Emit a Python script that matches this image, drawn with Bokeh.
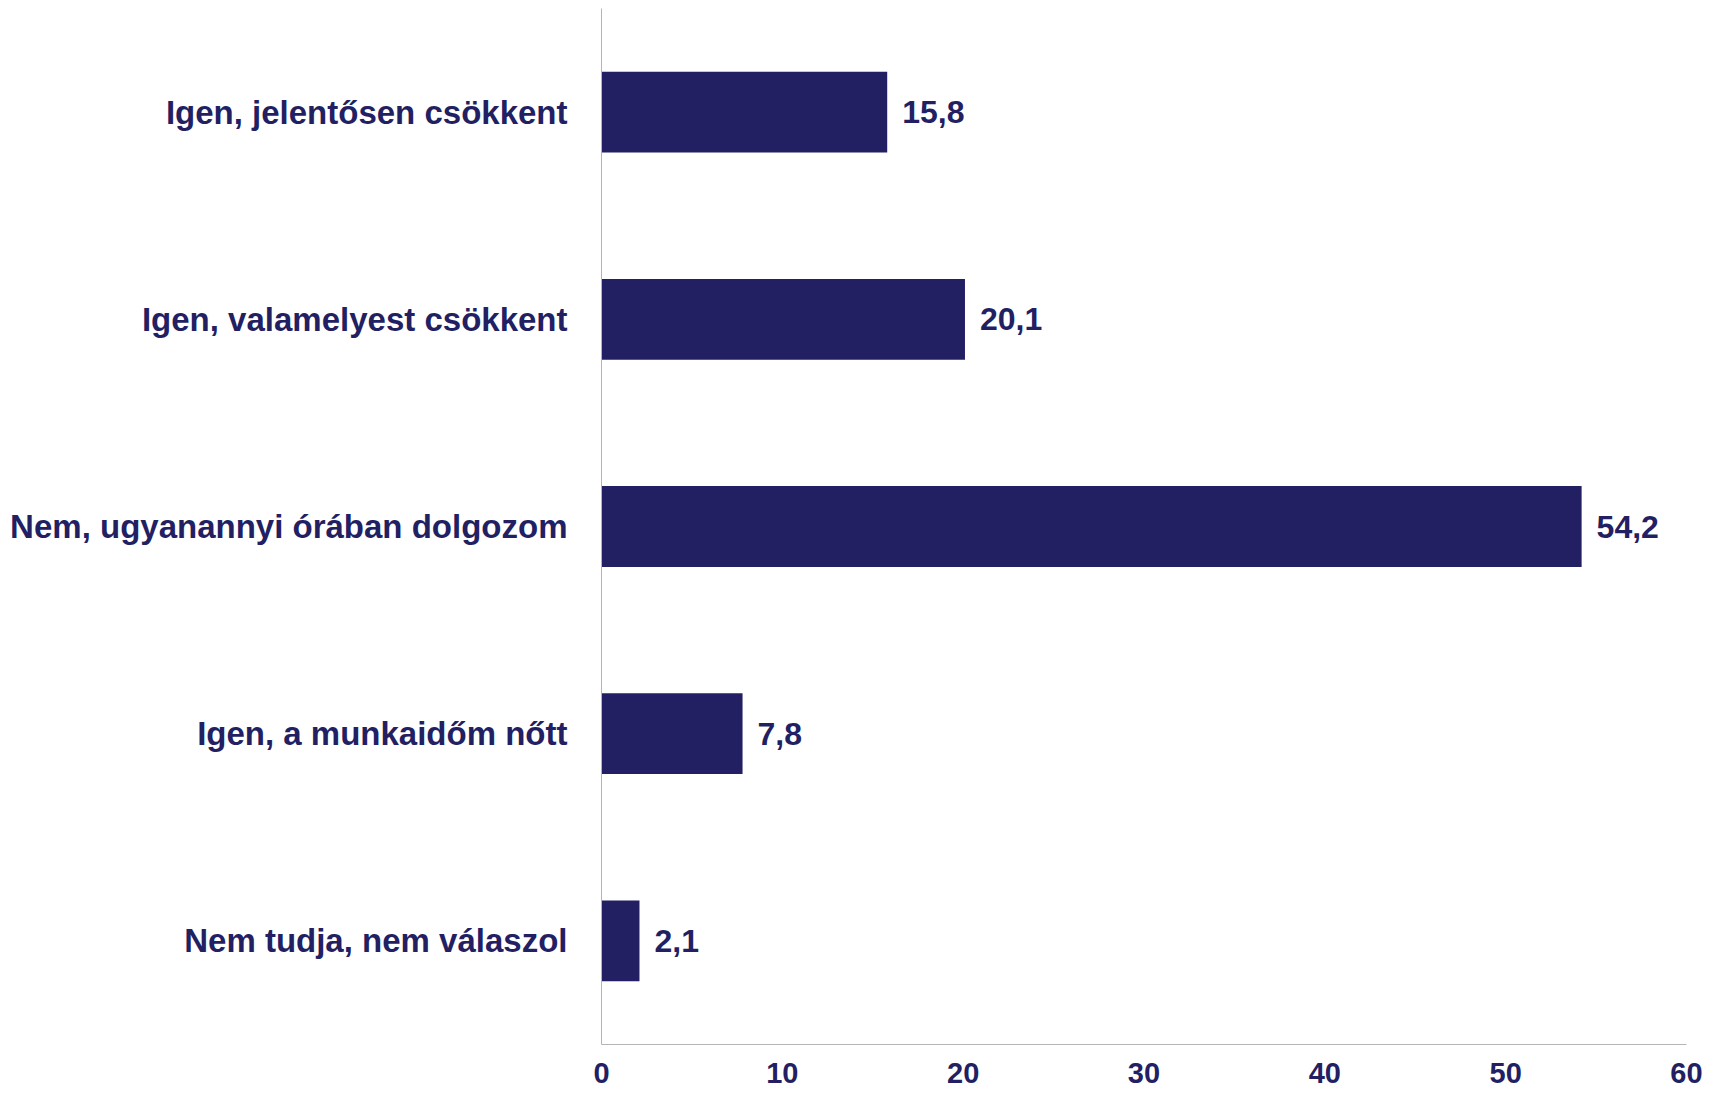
from bokeh.plotting import figure
from bokeh.models import FactorRange, Range1d, FixedTicker, ColumnDataSource
from bokeh.layouts import column
from bokeh.core.properties import value
from bokeh.embed import file_html
from bokeh.resources import INLINE

categories = [
    "Igen, jelentősen csökkent",
    "Igen, valamelyest csökkent",
    "Nem, ugyanannyi órában dolgozom",
    "Igen, a munkaidőm nőtt",
    "Nem tudja, nem válaszol",
]
values = [15.8, 20.1, 54.2, 7.8, 2.1]
x_ticks = [0, 10, 20, 30, 40, 50, 60]

labels = [f"{v:.1f}".replace(".", ",") for v in values]

NAVY = "#231F63"
GRAY = "#B5B5B5"
FONT = "Liberation Sans"

src = ColumnDataSource(dict(cat=categories, val=values, lab=labels))

W, H = 1716, 1097
FL, FT, FR, FB_BORDER = 601, 8, 30, 53

p = figure(
    width=W, height=H,
    y_range=FactorRange(factors=list(reversed(categories)), range_padding=0),
    x_range=Range1d(0, 60),
    output_backend="svg", toolbar_location=None,
    min_border_left=FL, min_border_right=FR, min_border_top=FT, min_border_bottom=FB_BORDER,
)
p.outline_line_color = None
p.background_fill_color = None
p.border_fill_color = None
p.xgrid.grid_line_color = None
p.ygrid.grid_line_color = None

p.hbar(y="cat", right="val", left=0, height=0.39, source=src,
       fill_color=NAVY, line_color=None)
p.text(x="val", y="cat", text="lab", source=src, x_offset=15,
       text_baseline="middle", text_align="left",
       text_font=value(FONT), text_font_style="bold",
       text_font_size="32px", text_color=NAVY)

# Y axis (category labels)
ya = p.yaxis[0]
ya.major_label_text_font = FONT
ya.major_label_text_font_style = "bold"
ya.major_label_text_font_size = "33px"
ya.major_label_text_color = NAVY
ya.major_label_standoff = 28
ya.major_tick_line_color = None
ya.minor_tick_line_color = None
ya.axis_line_color = GRAY
ya.axis_line_width = 1

# X axis
xa = p.xaxis[0]
xa.ticker = FixedTicker(ticks=x_ticks)
xa.major_label_text_font = FONT
xa.major_label_text_font_style = "bold"
xa.major_label_text_font_size = "29px"
xa.major_label_text_color = NAVY
xa.major_label_standoff = 12
xa.major_tick_line_color = None
xa.minor_tick_line_color = None
xa.axis_line_color = GRAY
xa.axis_line_width = 1

# Decorative logo (bottom-left) in a small transparent overlay figure
PURPLE = "#5A3C9C"
YELLOW = "#F4C430"
TEAL = "#6ECFC0"
RED = "#EE4B5E"
logo_y = [1033, 1039, 1044, 1044, 1050, 1050, 1056, 1056, 1062, 1062, 1068, 1073, 1079, 1085, 1091, 1096]
logo_x0 = [41, 27, 21, 50, 17, 57, 14, 28, 13, 66, 14, 14, 17, 22, 27, 41]
logo_x1 = [52, 66, 42, 72, 35, 76, 21, 79, 58, 80, 79, 30, 36, 58, 62, 52]
logo_c = [PURPLE, PURPLE, PURPLE, YELLOW, PURPLE, PURPLE, TEAL, PURPLE,
          PURPLE, TEAL, PURPLE, PURPLE, RED, PURPLE, PURPLE, PURPLE]

LH = 72
logo = figure(width=92, height=LH, x_range=Range1d(0, 92), y_range=Range1d(1097, 1097 - LH),
              output_backend="svg", toolbar_location=None,
              min_border=0, min_border_left=0, min_border_right=0, min_border_top=0, min_border_bottom=0)
logo.axis.visible = False
logo.grid.visible = False
logo.outline_line_color = None
logo.background_fill_color = None
logo.border_fill_color = None
logo.segment(x0=logo_x0, y0=logo_y, x1=logo_x1, y1=logo_y, line_color=logo_c,
             line_width=2.6, line_cap="round")
logo.scatter(x=[80], y=[1091], size=10, fill_color=RED, line_color=None)
logo.styles = {"position": "absolute", "left": "0px", "top": f"{H - LH}px", "z-index": "5"}

layout = column(p, logo, spacing=0)
open("out.html", "w").write(file_html(layout, INLINE))
